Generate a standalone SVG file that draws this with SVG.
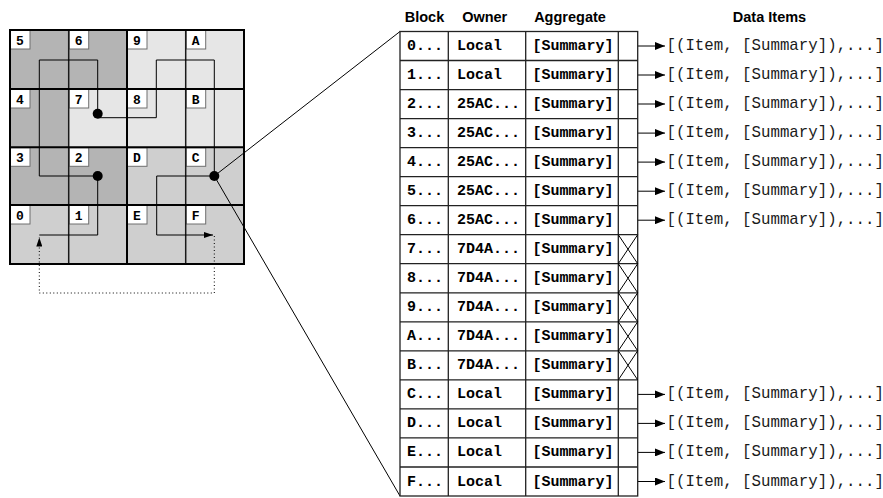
<svg xmlns="http://www.w3.org/2000/svg" width="883" height="498" viewBox="0 0 883 498">
  <style>
    .dark { fill: #b4b4b4; }
    .mid { fill: #cfcfcf; }
    .light { fill: #e6e6e6; }
    .gline { stroke: #1a1a1a; stroke-width: 1.5; fill: none; }
    .gmajor { stroke: #000; stroke-width: 2; fill: none; }
    .tag { fill: #fff; stroke: #6e6e6e; stroke-width: 1; }
    .tagtext { font-family: "Liberation Mono", "DejaVu Sans Mono", monospace; font-weight: bold; font-size: 13px; fill: #000; text-anchor: middle; }
    .curve { stroke: #000; stroke-width: 1; fill: none; }
    .dotted { stroke: #000; stroke-width: 1; fill: none; stroke-dasharray: 1 2.5; }
    .head { font-family: "Liberation Sans", Arial, sans-serif; font-weight: bold; font-size: 14.5px; fill: #000; text-anchor: middle; }
    .cell { font-family: "Liberation Mono", "Courier New", monospace; font-weight: bold; font-size: 15px; fill: #000; }
    .data { font-family: "Liberation Mono", "Courier New", monospace; font-size: 15.75px; fill: #1a1a1a; }
    .tline { stroke: #222; stroke-width: 1.3; fill: none; }
    .arrow { stroke: #000; stroke-width: 1; fill: none; marker-end: url(#tri); }
    .link { stroke: #000; stroke-width: 1; fill: none; }
  </style>
  <defs>
    <marker id="tri" markerWidth="10" markerHeight="8" refX="10" refY="4" orient="auto" markerUnits="userSpaceOnUse">
      <path d="M0,0 L10,4 L0,8 Z" fill="#000"/>
    </marker>
    <marker id="tri-small" markerWidth="9" markerHeight="6" refX="9" refY="3" orient="auto" markerUnits="userSpaceOnUse">
      <path d="M0,0 L9,3 L0,6 Z" fill="#000"/>
    </marker>
  </defs>

  <rect width="883" height="498" fill="#fff"/>

  <!-- block grid: 4x4 cells, each a node -->
  <g id="grid">
    <g id="cell-5"><rect class="dark" x="10" y="30" width="58.7" height="59"/><rect class="tag" x="10.5" y="30.5" width="19.5" height="18.5"/><text class="tagtext" x="20" y="44.5">5</text></g>
    <g id="cell-6"><rect class="dark" x="68.7" y="30" width="58.3" height="59"/><rect class="tag" x="69.2" y="30.5" width="19.5" height="18.5"/><text class="tagtext" x="78.7" y="44.5">6</text></g>
    <g id="cell-9"><rect class="light" x="127" y="30" width="58.7" height="59"/><rect class="tag" x="127.5" y="30.5" width="19.5" height="18.5"/><text class="tagtext" x="137" y="44.5">9</text></g>
    <g id="cell-A"><rect class="light" x="185.7" y="30" width="58.3" height="59"/><rect class="tag" x="186.2" y="30.5" width="19.5" height="18.5"/><text class="tagtext" x="195.7" y="44.5">A</text></g>

    <g id="cell-4"><rect class="dark" x="10" y="89" width="58.7" height="58.3"/><rect class="tag" x="10.5" y="89.5" width="19.5" height="18.5"/><text class="tagtext" x="20" y="103.5">4</text></g>
    <g id="cell-7"><rect class="light" x="68.7" y="89" width="58.3" height="58.3"/><rect class="tag" x="69.2" y="89.5" width="19.5" height="18.5"/><text class="tagtext" x="78.7" y="103.5">7</text></g>
    <g id="cell-8"><rect class="light" x="127" y="89" width="58.7" height="58.3"/><rect class="tag" x="127.5" y="89.5" width="19.5" height="18.5"/><text class="tagtext" x="137" y="103.5">8</text></g>
    <g id="cell-B"><rect class="light" x="185.7" y="89" width="58.3" height="58.3"/><rect class="tag" x="186.2" y="89.5" width="19.5" height="18.5"/><text class="tagtext" x="195.7" y="103.5">B</text></g>

    <g id="cell-3"><rect class="dark" x="10" y="147.3" width="58.7" height="57.7"/><rect class="tag" x="10.5" y="147.8" width="19.5" height="18.5"/><text class="tagtext" x="20" y="161.8">3</text></g>
    <g id="cell-2"><rect class="dark" x="68.7" y="147.3" width="58.3" height="57.7"/><rect class="tag" x="69.2" y="147.8" width="19.5" height="18.5"/><text class="tagtext" x="78.7" y="161.8">2</text></g>
    <g id="cell-D"><rect class="mid" x="127" y="147.3" width="58.7" height="57.7"/><rect class="tag" x="127.5" y="147.8" width="19.5" height="18.5"/><text class="tagtext" x="137" y="161.8">D</text></g>
    <g id="cell-C"><rect class="mid" x="185.7" y="147.3" width="58.3" height="57.7"/><rect class="tag" x="186.2" y="147.8" width="19.5" height="18.5"/><text class="tagtext" x="195.7" y="161.8">C</text></g>

    <g id="cell-0"><rect class="mid" x="10" y="205" width="58.7" height="59"/><rect class="tag" x="10.5" y="205.5" width="19.5" height="18.5"/><text class="tagtext" x="20" y="219.5">0</text></g>
    <g id="cell-1"><rect class="mid" x="68.7" y="205" width="58.3" height="59"/><rect class="tag" x="69.2" y="205.5" width="19.5" height="18.5"/><text class="tagtext" x="78.7" y="219.5">1</text></g>
    <g id="cell-E"><rect class="mid" x="127" y="205" width="58.7" height="59"/><rect class="tag" x="127.5" y="205.5" width="19.5" height="18.5"/><text class="tagtext" x="137" y="219.5">E</text></g>
    <g id="cell-F"><rect class="mid" x="185.7" y="205" width="58.3" height="59"/><rect class="tag" x="186.2" y="205.5" width="19.5" height="18.5"/><text class="tagtext" x="195.7" y="219.5">F</text></g>

    <!-- grid rules -->
    <path class="gline" d="M68.7,30 V264 M185.7,30 V264"/>
    <path class="gmajor" d="M10,89 H244 M10,147.3 H244 M10,205 H244 M127,30 V264"/>
    <rect class="gmajor" x="10" y="30" width="234" height="234"/>
  </g>

  <!-- traversal curve and links -->
  <g id="connectors">
    <path class="curve" d="M39.3,235 H97.7 V176"/>
    <path class="curve" d="M97.7,176 H39.3 V60 H97.7 V114"/>
    <path class="curve" d="M97.7,117.7 H156.3 V60 H214.3 V176"/>
    <path class="curve" d="M214.3,176 H156.7 V235 H213" marker-end="url(#tri-small)"/>
    <path class="dotted" d="M214.3,236 V293 H39.3 V237.5" marker-end="url(#tri-small)"/>
    <circle cx="97.7" cy="113.7" r="5"/>
    <circle cx="97.7" cy="176" r="5"/>
    <circle cx="214.3" cy="176" r="5"/>

    <path class="link" d="M214.3,176 L400,31.5 M214.3,176 L400,496"/>

    <path class="arrow" d="M628,46 H665"/>
    <path class="arrow" d="M628,75 H665"/>
    <path class="arrow" d="M628,104 H665"/>
    <path class="arrow" d="M628,133.1 H665"/>
    <path class="arrow" d="M628,162.1 H665"/>
    <path class="arrow" d="M628,191.2 H665"/>
    <path class="arrow" d="M628,220.2 H665"/>
    <path class="arrow" d="M628,394.4 H665"/>
    <path class="arrow" d="M628,423.4 H665"/>
    <path class="arrow" d="M628,452.4 H665"/>
    <path class="arrow" d="M628,481.5 H665"/>
  </g>

  <!-- column headings -->
  <g id="headings">
    <text class="head" x="424.5" y="22">Block</text>
    <text class="head" x="484.7" y="22">Owner</text>
    <text class="head" x="570" y="22">Aggregate</text>
    <text class="head" x="769.5" y="22">Data Items</text>
  </g>

  <!-- block table -->
  <g id="table">
    <rect x="400" y="31.5" width="237.7" height="464.5" fill="#fff"/>
    <path class="tline" d="M400,60.5 H637.7 M400,89.6 H637.7 M400,118.6 H637.7 M400,147.6 H637.7 M400,176.7 H637.7 M400,205.7 H637.7 M400,234.7 H637.7 M400,263.7 H637.7 M400,292.8 H637.7 M400,321.8 H637.7 M400,350.8 H637.7 M400,379.9 H637.7 M400,408.9 H637.7 M400,437.9 H637.7 M400,467 H637.7"/>
    <path class="tline" d="M448.3,31.5 V496 M525.7,31.5 V496 M618.3,31.5 V496"/>
    <rect class="tline" x="400" y="31.5" width="237.7" height="464.5"/>
    <!-- empty data slots for remote blocks -->
    <path class="link" d="M618.3,234.7 L637.7,263.7 M637.7,234.7 L618.3,263.7 M618.3,263.7 L637.7,292.8 M637.7,263.7 L618.3,292.8 M618.3,292.8 L637.7,321.8 M637.7,292.8 L618.3,321.8 M618.3,321.8 L637.7,350.8 M637.7,321.8 L618.3,350.8 M618.3,350.8 L637.7,379.9 M637.7,350.8 L618.3,379.9"/>
  </g>

  <g id="row-0"><text class="cell" x="407" y="50">0...</text><text class="cell" x="457" y="50">Local</text><text class="cell" x="532.5" y="50">[Summary]</text><text class="data" x="666.5" y="50">[(Item, [Summary]),...]</text></g>
  <g id="row-1"><text class="cell" x="407" y="79">1...</text><text class="cell" x="457" y="79">Local</text><text class="cell" x="532.5" y="79">[Summary]</text><text class="data" x="666.5" y="79">[(Item, [Summary]),...]</text></g>
  <g id="row-2"><text class="cell" x="407" y="108.1">2...</text><text class="cell" x="457" y="108.1">25AC...</text><text class="cell" x="532.5" y="108.1">[Summary]</text><text class="data" x="666.5" y="108.1">[(Item, [Summary]),...]</text></g>
  <g id="row-3"><text class="cell" x="407" y="137.1">3...</text><text class="cell" x="457" y="137.1">25AC...</text><text class="cell" x="532.5" y="137.1">[Summary]</text><text class="data" x="666.5" y="137.1">[(Item, [Summary]),...]</text></g>
  <g id="row-4"><text class="cell" x="407" y="166.1">4...</text><text class="cell" x="457" y="166.1">25AC...</text><text class="cell" x="532.5" y="166.1">[Summary]</text><text class="data" x="666.5" y="166.1">[(Item, [Summary]),...]</text></g>
  <g id="row-5"><text class="cell" x="407" y="195.2">5...</text><text class="cell" x="457" y="195.2">25AC...</text><text class="cell" x="532.5" y="195.2">[Summary]</text><text class="data" x="666.5" y="195.2">[(Item, [Summary]),...]</text></g>
  <g id="row-6"><text class="cell" x="407" y="224.2">6...</text><text class="cell" x="457" y="224.2">25AC...</text><text class="cell" x="532.5" y="224.2">[Summary]</text><text class="data" x="666.5" y="224.2">[(Item, [Summary]),...]</text></g>
  <g id="row-7"><text class="cell" x="407" y="253.2">7...</text><text class="cell" x="457" y="253.2">7D4A...</text><text class="cell" x="532.5" y="253.2">[Summary]</text></g>
  <g id="row-8"><text class="cell" x="407" y="282.2">8...</text><text class="cell" x="457" y="282.2">7D4A...</text><text class="cell" x="532.5" y="282.2">[Summary]</text></g>
  <g id="row-9"><text class="cell" x="407" y="311.3">9...</text><text class="cell" x="457" y="311.3">7D4A...</text><text class="cell" x="532.5" y="311.3">[Summary]</text></g>
  <g id="row-A"><text class="cell" x="407" y="340.3">A...</text><text class="cell" x="457" y="340.3">7D4A...</text><text class="cell" x="532.5" y="340.3">[Summary]</text></g>
  <g id="row-B"><text class="cell" x="407" y="369.3">B...</text><text class="cell" x="457" y="369.3">7D4A...</text><text class="cell" x="532.5" y="369.3">[Summary]</text></g>
  <g id="row-C"><text class="cell" x="407" y="398.4">C...</text><text class="cell" x="457" y="398.4">Local</text><text class="cell" x="532.5" y="398.4">[Summary]</text><text class="data" x="666.5" y="398.4">[(Item, [Summary]),...]</text></g>
  <g id="row-D"><text class="cell" x="407" y="427.4">D...</text><text class="cell" x="457" y="427.4">Local</text><text class="cell" x="532.5" y="427.4">[Summary]</text><text class="data" x="666.5" y="427.4">[(Item, [Summary]),...]</text></g>
  <g id="row-E"><text class="cell" x="407" y="456.4">E...</text><text class="cell" x="457" y="456.4">Local</text><text class="cell" x="532.5" y="456.4">[Summary]</text><text class="data" x="666.5" y="456.4">[(Item, [Summary]),...]</text></g>
  <g id="row-F"><text class="cell" x="407" y="485.5">F...</text><text class="cell" x="457" y="485.5">Local</text><text class="cell" x="532.5" y="485.5">[Summary]</text><text class="data" x="666.5" y="485.5">[(Item, [Summary]),...]</text></g>
</svg>
